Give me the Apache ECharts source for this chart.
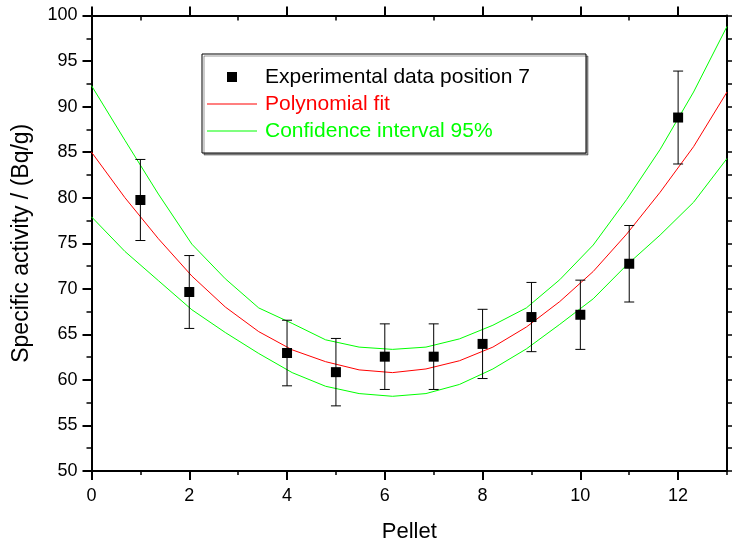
<!DOCTYPE html>
<html>
<head>
<meta charset="utf-8">
<script src="https://cdn.jsdelivr.net/npm/echarts@6/dist/echarts.min.js"></script>
<style>
  html, body { margin: 0; padding: 0; background: #fff; }
  #chart { width: 734px; height: 548px; }
</style>
</head>
<body>
<div id="chart"></div>
<script>
// Measured specific activity per pellet, with its uncertainty
var pellets  = [1, 2, 4, 5, 6, 7, 8, 9, 10, 11, 12];
var activity = [79.75, 69.65, 62.95, 60.85, 62.55, 62.55, 63.95, 66.9, 67.15, 72.75, 88.8];
var errors   = [4.45, 4.0, 3.6, 3.7, 3.6, 3.6, 3.8, 3.8, 3.8, 4.2, 5.1];

// Polynomial fit and its 95% confidence band, sampled along the pellet axis
var fitX  = [0, 0.684, 1.368, 2.053, 2.737, 3.421, 4.105, 4.789, 5.474, 6.158,
             6.842, 7.526, 8.211, 8.895, 9.579, 10.263, 10.947, 11.632, 12.316, 13];
var fitY  = [85.0, 80.0, 75.5, 71.4, 68.0, 65.3, 63.3, 62.0, 61.1, 60.8,
             61.2, 62.1, 63.6, 65.8, 68.6, 71.9, 76.0, 80.6, 85.6, 91.6];
var bandUpper = [92.3, 86.3, 80.4, 74.9, 71.1, 67.9, 66.2, 64.4, 63.6, 63.35,
                 63.6, 64.5, 66.0, 67.9, 71.0, 74.8, 79.8, 85.3, 91.6, 98.8];
var bandLower = [77.9, 74.1, 70.9, 67.7, 65.2, 62.9, 60.8, 59.3, 58.5, 58.2,
                 58.5, 59.5, 61.2, 63.4, 66.1, 68.9, 72.6, 75.9, 79.5, 84.3];

// Axis ticks
var xMajorTicks = [0, 2, 4, 6, 8, 10, 12];
var xMinorTicks = [1, 3, 5, 7, 9, 11, 13];

var FONT = "'Liberation Sans', Arial, sans-serif";
var RED = '#ff0000';
var GREEN = '#00ff00';

// legend glyphs: a filled square and a thin line
var SQUARE_ICON = 'path://M0,0 L10,0 L10,10 L0,10 Z';
var LINE_ICON = 'path://M0,0 L50,0 L50,1 L0,1 Z';

function zip(xs, ys) {
  return xs.map(function (x, i) { return [x, ys[i]]; });
}

var pointData = pellets.map(function (p, i) { return [p, activity[i], errors[i]]; });

var chart = echarts.init(document.getElementById('chart'), null, { renderer: 'canvas' });

var axisLineStyle = { color: '#000', width: 2 };

function xAxisBase(extra) {
  return Object.assign({
    type: 'value', min: 0, max: 13,
    splitLine: { show: false },
    axisLine: { show: true, onZero: false, lineStyle: axisLineStyle }
  }, extra);
}

var option = {
  backgroundColor: '#fff',
  animation: false,
  textStyle: { fontFamily: FONT },
  grid: { left: 91.5, right: 7, top: 15.5, bottom: 76, containLabel: false },
  xAxis: [
    xAxisBase({
      position: 'bottom',
      name: 'Pellet', nameLocation: 'middle', nameGap: 50,
      nameTextStyle: { fontSize: 22, color: '#000', fontFamily: FONT },
      axisTick: { show: true, customValues: xMajorTicks, length: 9, lineStyle: { color: '#000', width: 2 } },
      axisLabel: { customValues: xMajorTicks, fontSize: 18, color: '#000', margin: 16, fontFamily: FONT }
    }),
    xAxisBase({
      position: 'bottom',
      axisTick: { show: true, customValues: xMinorTicks, length: 4, lineStyle: { color: '#000', width: 1.5 } },
      axisLabel: { show: false }
    }),
    xAxisBase({
      position: 'top',
      axisTick: { show: true, customValues: xMajorTicks, length: 9, lineStyle: { color: '#000', width: 2 } },
      axisLabel: { show: false }
    }),
    xAxisBase({
      position: 'top',
      axisTick: { show: true, inside: true, customValues: xMinorTicks, length: 5, lineStyle: { color: '#000', width: 1.5 } },
      axisLabel: { show: false }
    })
  ],
  yAxis: [
    {
      type: 'value', min: 50, max: 100, interval: 5, position: 'left',
      name: 'Specific activity / (Bq/g)', nameLocation: 'middle', nameGap: 58,
      nameTextStyle: { fontSize: 23, color: '#000', fontFamily: FONT },
      splitLine: { show: false },
      axisLine: { show: true, onZero: false, lineStyle: axisLineStyle },
      axisTick: { show: true, length: 9, lineStyle: { color: '#000', width: 2 } },
      minorTick: { show: true, splitNumber: 2, length: 5, lineStyle: { color: '#000', width: 1.5 } },
      axisLabel: { fontSize: 18, color: '#000', margin: 14, fontFamily: FONT }
    },
    {
      type: 'value', min: 50, max: 100, interval: 2.5, position: 'right',
      splitLine: { show: false },
      axisLine: { show: true, onZero: false, lineStyle: axisLineStyle },
      axisTick: { show: true, length: 5, lineStyle: { color: '#000', width: 1.5 } },
      axisLabel: { show: false }
    }
  ],
  legend: {
    orient: 'vertical',
    left: 202, top: 54,
    padding: [12, 56, 11, 5],
    itemWidth: 50, itemHeight: 10,
    itemGap: 5,
    symbolKeepAspect: true,
    backgroundColor: '#fff',
    borderColor: '#000', borderWidth: 1, borderRadius: 0,
    shadowColor: 'rgba(0,0,0,0.4)', shadowBlur: 0, shadowOffsetX: 2, shadowOffsetY: 2,
    textStyle: { fontSize: 21, fontFamily: FONT, lineHeight: 22, padding: [0, 0, 0, 3] },
    data: [
      { name: 'Experimental data position 7', icon: SQUARE_ICON, itemStyle: { color: '#000', opacity: 1 }, textStyle: { color: '#000' } },
      { name: 'Polynomial fit', icon: LINE_ICON, itemStyle: { color: RED }, textStyle: { color: RED } },
      { name: 'Confidence interval 95%', icon: LINE_ICON, itemStyle: { color: GREEN }, textStyle: { color: GREEN } }
    ]
  },
  series: [
    {
      name: 'Polynomial fit', type: 'line', xAxisIndex: 0, yAxisIndex: 0,
      data: zip(fitX, fitY), symbol: 'none', showSymbol: false,
      lineStyle: { color: RED, width: 1 }, itemStyle: { color: RED }, z: 2
    },
    {
      name: 'Confidence interval 95%', type: 'line', xAxisIndex: 0, yAxisIndex: 0,
      data: zip(fitX, bandUpper), symbol: 'none', showSymbol: false,
      lineStyle: { color: GREEN, width: 1 }, itemStyle: { color: GREEN }, z: 2
    },
    {
      name: 'Confidence interval 95%', type: 'line', xAxisIndex: 0, yAxisIndex: 0,
      data: zip(fitX, bandLower), symbol: 'none', showSymbol: false,
      lineStyle: { color: GREEN, width: 1 }, itemStyle: { color: GREEN }, z: 2
    },
    {
      // vertical error bars with caps
      name: 'errorbars', type: 'custom', xAxisIndex: 0, yAxisIndex: 0,
      data: pointData, z: 3,
      encode: { x: 0, y: [1] },
      renderItem: function (params, api) {
        var x = api.value(0), y = api.value(1), e = api.value(2);
        var top = api.coord([x, y + e]);
        var bot = api.coord([x, y - e]);
        var half = 5;
        var style = { stroke: '#000', lineWidth: 1 };
        return {
          type: 'group',
          children: [
            { type: 'line', shape: { x1: top[0], y1: top[1], x2: bot[0], y2: bot[1] }, style: style },
            { type: 'line', shape: { x1: top[0] - half, y1: top[1], x2: top[0] + half, y2: top[1] }, style: style },
            { type: 'line', shape: { x1: bot[0] - half, y1: bot[1], x2: bot[0] + half, y2: bot[1] }, style: style }
          ]
        };
      }
    },
    {
      name: 'Experimental data position 7', type: 'scatter', xAxisIndex: 0, yAxisIndex: 0,
      data: pointData.map(function (d) { return [d[0], d[1]]; }),
      symbol: 'rect', symbolSize: 10,
      itemStyle: { color: '#000', opacity: 1 }, z: 4
    }
  ]
};

chart.setOption(option);
</script>
</body>
</html>
